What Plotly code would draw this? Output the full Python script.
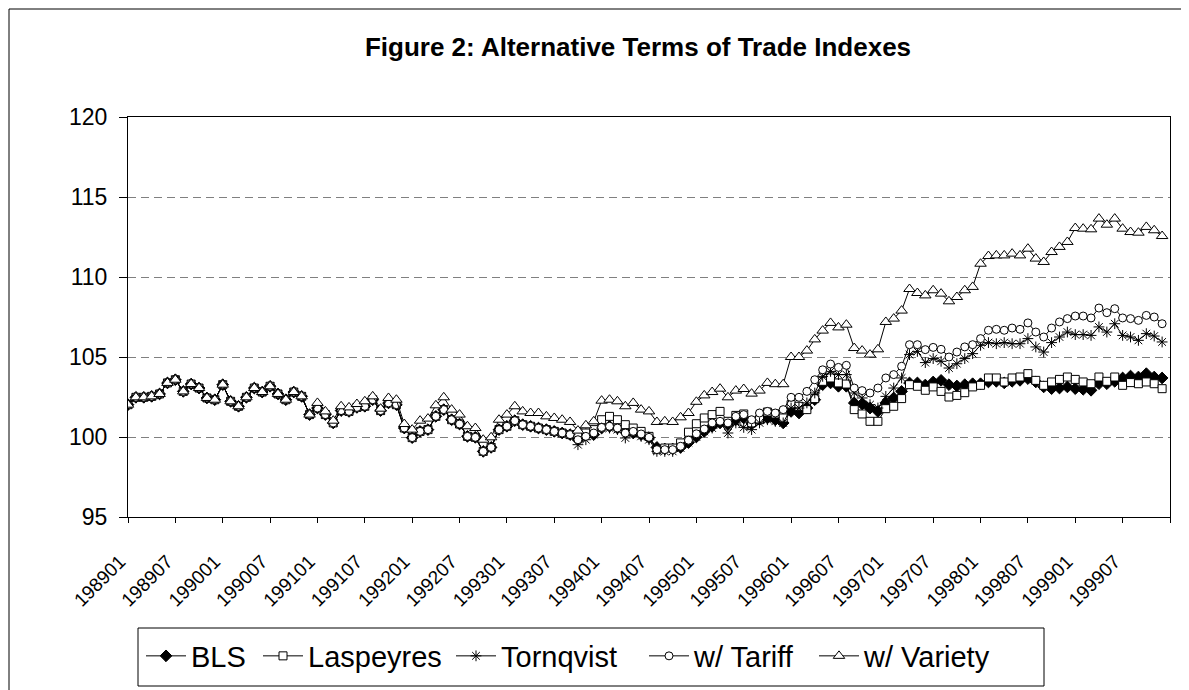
import plotly.graph_objects as go

# Monthly categories 198901 .. 199912
months = [f"{y}{m:02d}" for y in range(1989, 2000) for m in range(1, 13)]

tick_labels = ["198901", "198907", "199001", "199007", "199101", "199107",
               "199201", "199207", "199301", "199307", "199401", "199407",
               "199501", "199507", "199601", "199607", "199701", "199707",
               "199801", "199807", "199901", "199907"]

bls = [102.02, 102.48, 102.48, 102.54, 102.69, 103.38, 103.58, 102.85, 103.31, 103.06,
       102.44, 102.33, 103.27, 102.23, 101.92, 102.48, 103.06, 102.81, 103.17, 102.69,
       102.33, 102.81, 102.54, 101.40, 101.81, 101.40, 100.88, 101.65, 101.60, 101.85,
       101.92, 102.33, 101.65, 102.13, 102.02, 100.56, 99.96, 100.35, 100.46, 101.29,
       101.71, 101.08, 100.81, 100.04, 99.98, 99.10, 99.35, 100.46, 100.67, 101.02,
       100.77, 100.67, 100.56, 100.46, 100.35, 100.25, 100.15, 99.83, 100.15, 100.15,
       100.56, 100.67, 100.56, 100.46, 100.25, 100.15, 99.96, 99.35, 99.25, 99.25,
       99.35, 99.65, 100.00, 100.35, 100.67, 100.88, 100.77, 101.08, 101.19, 100.88,
       101.08, 101.19, 101.08, 100.88, 101.60, 101.50, 101.81, 102.33, 103.27, 103.38,
       103.17, 103.17, 102.13, 102.06, 101.81, 101.60, 102.13, 102.44, 102.85, 103.38,
       103.38, 103.25, 103.44, 103.54, 103.27, 103.19, 103.27, 103.33, 103.33, 103.44,
       103.48, 103.38, 103.48, 103.54, 103.65, 103.44, 103.13, 103.02, 103.06, 103.13,
       103.02, 102.98, 102.92, 103.33, 103.33, 103.48, 103.69, 103.81, 103.75, 103.96,
       103.75, 103.69]

laspeyres = [102.02, 102.48, 102.48, 102.54, 102.69, 103.38, 103.58, 102.85, 103.31, 103.06,
             102.44, 102.33, 103.27, 102.23, 101.92, 102.48, 103.06, 102.81, 103.17, 102.69,
             102.33, 102.81, 102.54, 101.40, 101.81, 101.40, 100.88, 101.65, 101.60, 101.85,
             101.92, 102.33, 101.65, 102.13, 102.02, 100.56, 99.96, 100.35, 100.46, 101.29,
             101.71, 101.08, 100.81, 100.04, 99.98, 99.10, 99.35, 100.46, 100.67, 101.02,
             100.77, 100.67, 100.56, 100.46, 100.35, 100.25, 100.15, 100.15, 100.25, 100.46,
             101.08, 101.29, 101.08, 100.77, 100.56, 100.35, 100.04, 99.21, 99.31, 99.31,
             99.63, 100.30, 100.83, 101.19, 101.40, 101.60, 100.98, 101.35, 101.44, 100.88,
             101.08, 101.56, 101.44, 101.19, 102.02, 101.92, 101.71, 102.40, 103.48, 103.69,
             103.38, 103.31, 101.71, 101.44, 100.98, 100.98, 101.77, 101.92, 102.40, 103.27,
             103.17, 102.92, 103.13, 102.85, 102.50, 102.60, 102.77, 103.13, 103.23, 103.69,
             103.69, 103.44, 103.69, 103.75, 103.96, 103.54, 103.23, 103.44, 103.60, 103.75,
             103.60, 103.44, 103.33, 103.75, 103.48, 103.75, 103.23, 103.40, 103.33, 103.44,
             103.33, 103.02]

tornqvist = [102.02, 102.48, 102.48, 102.54, 102.69, 103.38, 103.58, 102.85, 103.31, 103.06,
             102.44, 102.33, 103.27, 102.23, 101.92, 102.48, 103.06, 102.81, 103.17, 102.69,
             102.33, 102.81, 102.54, 101.40, 101.81, 101.40, 100.88, 101.65, 101.60, 101.85,
             101.92, 102.33, 101.65, 102.13, 102.02, 100.56, 99.96, 100.35, 100.46, 101.29,
             101.71, 101.08, 100.81, 100.04, 99.98, 99.10, 99.35, 100.46, 100.67, 101.02,
             100.77, 100.67, 100.56, 100.46, 100.35, 100.25, 100.15, 99.52, 99.83, 100.15,
             100.56, 100.56, 100.46, 99.94, 100.25, 100.04, 99.83, 99.10, 99.10, 99.10,
             99.31, 99.65, 100.00, 100.35, 100.56, 100.88, 100.25, 100.88, 100.60, 100.46,
             100.88, 101.08, 100.98, 100.88, 101.81, 101.81, 102.13, 102.75, 103.79, 104.10,
             103.90, 103.90, 102.75, 102.44, 102.02, 101.81, 102.54, 103.06, 103.69, 105.15,
             105.35, 104.65, 104.90, 104.73, 104.31, 104.58, 104.90, 105.21, 105.73, 105.90,
             105.83, 105.90, 105.83, 105.83, 106.15, 105.63, 105.31, 105.90, 106.25, 106.56,
             106.40, 106.40, 106.35, 106.88, 106.56, 107.08, 106.35, 106.25, 106.04, 106.46,
             106.31, 105.94]

tariff = [102.02, 102.48, 102.48, 102.54, 102.69, 103.38, 103.58, 102.85, 103.31, 103.06,
          102.44, 102.33, 103.27, 102.23, 101.92, 102.48, 103.06, 102.81, 103.17, 102.69,
          102.33, 102.81, 102.54, 101.40, 101.81, 101.40, 100.88, 101.65, 101.60, 101.85,
          101.92, 102.33, 101.65, 102.13, 102.02, 100.56, 99.96, 100.35, 100.46, 101.29,
          101.71, 101.08, 100.81, 100.04, 99.98, 99.10, 99.35, 100.46, 100.67, 101.02,
          100.77, 100.67, 100.56, 100.46, 100.35, 100.25, 100.15, 99.83, 100.04, 100.25,
          100.60, 100.67, 100.56, 100.25, 100.35, 100.19, 99.98, 99.21, 99.21, 99.21,
          99.42, 99.80, 100.20, 100.50, 100.88, 100.98, 100.88, 101.29, 101.40, 101.08,
          101.50, 101.60, 101.50, 101.71, 102.48, 102.48, 102.85, 103.58, 104.20, 104.56,
          104.35, 104.48, 103.06, 102.90, 102.75, 103.06, 103.69, 103.90, 104.42, 105.77,
          105.77, 105.46, 105.60, 105.48, 105.00, 105.31, 105.63, 105.77, 106.15, 106.67,
          106.73, 106.67, 106.81, 106.73, 107.13, 106.56, 106.25, 106.81, 107.19, 107.40,
          107.56, 107.56, 107.44, 108.06, 107.77, 108.02, 107.44, 107.40, 107.29, 107.60,
          107.50, 107.08]

variety = [102.02, 102.48, 102.48, 102.54, 102.69, 103.38, 103.58, 102.85, 103.31, 103.06,
           102.44, 102.33, 103.27, 102.23, 101.92, 102.48, 103.06, 102.81, 103.17, 102.69,
           102.33, 102.81, 102.54, 101.40, 102.13, 101.60, 101.02, 101.92, 101.85, 102.06,
           102.23, 102.54, 101.77, 102.44, 102.33, 100.81, 100.46, 101.02, 101.15, 101.98,
           102.48, 101.71, 101.40, 100.67, 100.56, 99.83, 99.98, 101.08, 101.40, 101.92,
           101.60, 101.50, 101.50, 101.29, 101.19, 101.08, 100.94, 100.40, 100.73, 100.98,
           102.27, 102.33, 102.23, 101.92, 102.13, 101.71, 101.60, 100.94, 100.98, 100.94,
           101.23, 101.50, 102.20, 102.60, 102.81, 103.02, 102.48, 102.90, 103.00, 102.71,
           102.90, 103.38, 103.30, 103.30, 105.00, 105.00, 105.40, 106.10, 106.65, 107.13,
           106.85, 107.02, 105.56, 105.40, 105.15, 105.48, 107.19, 107.40, 107.90, 109.25,
           109.00, 108.85, 109.17, 108.96, 108.48, 108.75, 109.17, 109.38, 110.83, 111.31,
           111.35, 111.35, 111.46, 111.35, 111.77, 111.15, 110.94, 111.56, 111.88, 112.19,
           113.06, 113.02, 112.98, 113.65, 113.27, 113.65, 113.02, 112.81, 112.77, 113.13,
           112.92, 112.56]

x_idx = list(range(len(months)))
tickvals = [months.index(t) for t in tick_labels] + [len(months)]
ticktext = tick_labels + [""]

FONT = "Liberation Sans, Arial, sans-serif"

# plot area in pixels
L, R, T, B = 120, 1162, 109, 509
PW, PH = R - L, B - T

def px_x(p):
    return (p - L) / PW

def px_y(p):
    return (B - p) / PH

series = [
    ("BLS", bls, dict(symbol="diamond", size=9, color="black", line=dict(color="black", width=1))),
    ("Laspeyres", laspeyres, dict(symbol="square", size=8, color="white", line=dict(color="black", width=1))),
    ("Tornqvist", tornqvist, dict(symbol="asterisk-open", size=9, color="black", line=dict(color="black", width=1))),
    ("w/ Tariff", tariff, dict(symbol="circle", size=8, color="white", line=dict(color="black", width=1))),
    ("w/ Variety", variety, dict(symbol="triangle-up", size=10, color="white", line=dict(color="black", width=1))),
]
legend_x = [133, 250, 443, 636, 806]
legend_names = ["legend", "legend2", "legend3", "legend4", "legend5"]

fig = go.Figure()
for (name, vals, mk), lname in zip(series, legend_names):
    fig.add_trace(go.Scatter(
        x=x_idx, y=vals, name=name, mode="lines+markers",
        line=dict(color="black", width=1), marker=mk, legend=lname,
    ))

legend_common = dict(orientation="h", yanchor="middle", y=px_y(648), xanchor="left",
                     bgcolor="rgba(0,0,0,0)", borderwidth=0,
                     font=dict(family=FONT, size=29, color="black"), itemwidth=40)
legends = {}
for lname, lx in zip(legend_names, legend_x):
    legends[lname] = dict(legend_common, x=px_x(lx))

fig.update_layout(
    width=1189, height=690,
    margin=dict(l=L, r=1189 - R, t=T, b=690 - B),
    paper_bgcolor="white", plot_bgcolor="white",
    font=dict(family=FONT, color="black", size=17),
    title=dict(text="<b>Figure 2: Alternative Terms of Trade Indexes</b>",
               xref="container", x=630 / 1189, xanchor="center",
               y=1 - 39 / 690, yanchor="middle",
               font=dict(family=FONT, size=26, color="black")),
    showlegend=True,
    shapes=[
        dict(type="rect", xref="paper", yref="paper",
             x0=px_x(1), x1=px_x(1187), y0=px_y(688), y1=px_y(1),
             line=dict(color="black", width=1), fillcolor="rgba(0,0,0,0)", layer="below"),
        dict(type="rect", xref="paper", yref="paper",
             x0=px_x(130), x1=px_x(1036), y0=px_y(678), y1=px_y(620),
             line=dict(color="black", width=1), fillcolor="rgba(0,0,0,0)", layer="below"),
    ],
    **legends,
)

fig.update_xaxes(
    range=[0, len(months)], tickmode="array", tickvals=tickvals, ticktext=ticktext,
    tickangle=-45, ticks="outside", ticklen=5, tickcolor="black",
    ticklabelstandoff=20, ticklabelshift=-8,
    showline=True, linecolor="black", linewidth=1, mirror=True,
    showgrid=False, zeroline=False,
    tickfont=dict(family=FONT, size=19, color="black"),
)
fig.update_yaxes(
    range=[95, 120], tickmode="array", tickvals=[95, 100, 105, 110, 115, 120],
    ticks="outside", ticklen=8, tickcolor="black", ticklabelstandoff=7,
    showline=True, linecolor="black", linewidth=1, mirror=True,
    showgrid=True, gridcolor="#808080", gridwidth=1, griddash="8px,5px",
    zeroline=False,
    tickfont=dict(family=FONT, size=23, color="black"),
)

fig.write_html("out.html")
